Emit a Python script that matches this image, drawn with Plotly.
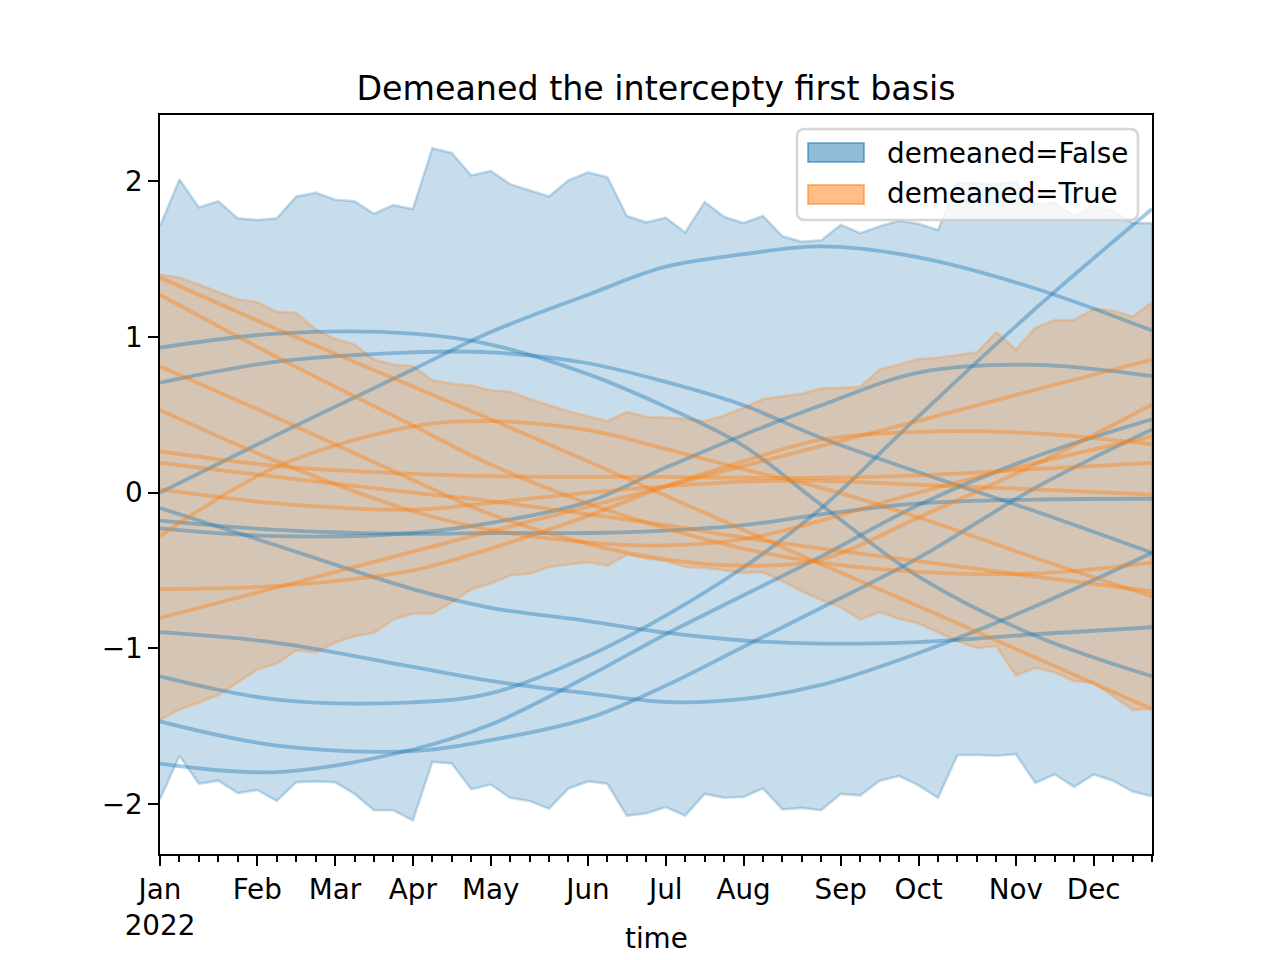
import plotly.graph_objects as go

# ---------------- data ----------------
weeks = list(range(52))
month_ticks = [0, 5, 9, 13, 17, 22, 26, 30, 35, 39, 44, 48]
month_labels = ["Jan<br>2022", "Feb", "Mar", "Apr", "May", "Jun", "Jul", "Aug", "Sep", "Oct", "Nov", "Dec"]
y_ticks = [-2, -1, 0, 1, 2]
y_labels = ["\u22122", "\u22121", "0", "1", "2"]
series_names = ["demeaned=False", "demeaned=True"]

false_upper = [1.71, 2.01, 1.83, 1.87, 1.76, 1.75, 1.76, 1.90, 1.925, 1.88, 1.87, 1.79, 1.845, 1.82,
               2.21, 2.18, 2.035, 2.065, 1.98, 1.94, 1.90, 2.005, 2.055, 2.025, 1.775, 1.735, 1.765,
               1.67, 1.865, 1.77, 1.73, 1.775, 1.645, 1.61, 1.62, 1.72, 1.665, 1.71, 1.745, 1.725,
               1.685, 1.99, 1.985, 1.98, 1.995, 1.85, 1.86, 1.775, 1.84, 1.81, 1.73, 1.73]
false_lower = [-1.97, -1.69, -1.87, -1.85, -1.93, -1.91, -1.98, -1.86, -1.855, -1.86, -1.935, -2.04,
               -2.04, -2.105, -1.73, -1.74, -1.905, -1.875, -1.96, -1.98, -2.03, -1.90, -1.855, -1.87,
               -2.075, -2.06, -2.02, -2.075, -1.935, -1.96, -1.955, -1.90, -2.035, -2.025, -2.04,
               -1.935, -1.945, -1.85, -1.82, -1.88, -1.96, -1.685, -1.685, -1.69, -1.68, -1.865,
               -1.81, -1.89, -1.81, -1.85, -1.92, -1.95]
true_upper = [1.40, 1.38, 1.336, 1.287, 1.24, 1.222, 1.16, 1.154, 1.047, 0.987, 0.95, 0.854, 0.822,
              0.811, 0.72, 0.70, 0.687, 0.657, 0.647, 0.60, 0.56, 0.522, 0.49, 0.458, 0.518, 0.486,
              0.48, 0.473, 0.458, 0.495, 0.544, 0.60, 0.618, 0.634, 0.67, 0.672, 0.679, 0.79, 0.822,
              0.858, 0.865, 0.882, 0.90, 1.03, 0.918, 1.057, 1.107, 1.107, 1.18, 1.169, 1.128, 1.222]
true_lower = [-1.46, -1.394, -1.35, -1.30, -1.22, -1.137, -1.10, -1.013, -1.026, -0.965, -0.923,
              -0.90, -0.816, -0.777, -0.777, -0.705, -0.623, -0.585, -0.533, -0.522, -0.478, -0.462,
              -0.448, -0.469, -0.40, -0.424, -0.44, -0.478, -0.484, -0.50, -0.516, -0.512, -0.57,
              -0.634, -0.69, -0.737, -0.816, -0.769, -0.811, -0.841, -0.90, -0.955, -0.998, -0.987,
              -1.175, -1.126, -1.154, -1.212, -1.222, -1.308, -1.394, -1.39]

# individual sample curves, read at these weeks
line_weeks = [0, 6, 13, 17, 22, 26, 30, 34, 39, 45, 51]

false_line_1 = [0.00, 0.37, 0.79, 1.03, 1.27, 1.45, 1.53, 1.58, 1.51, 1.31, 1.04]
false_line_2 = [0.93, 1.02, 1.02, 0.95, 0.76, 0.55, 0.30, -0.08, -0.54, -0.92, -1.18]
false_line_3 = [0.706, 0.84, 0.90, 0.90, 0.83, 0.71, 0.56, 0.35, 0.13, -0.12, -0.387]
false_line_4 = [-0.23, -0.28, -0.26, -0.195, -0.06, 0.16, 0.37, 0.56, 0.77, 0.82, 0.747]
false_line_5 = [-0.18, -0.24, -0.265, -0.26, -0.26, -0.245, -0.21, -0.14, -0.07, -0.045, -0.04]
false_line_6 = [-0.10, -0.34, -0.62, -0.74, -0.825, -0.90, -0.95, -0.97, -0.96, -0.91, -0.865]
false_line_7 = [-0.897, -0.965, -1.12, -1.21, -1.29, -1.345, -1.325, -1.235, -1.03, -0.73, -0.387]
false_line_8 = [-1.18, -1.33, -1.347, -1.29, -1.05, -0.79, -0.48, -0.10, 0.49, 1.18, 1.82]
false_line_9 = [-1.47, -1.625, -1.66, -1.59, -1.45, -1.24, -0.99, -0.74, -0.42, 0.03, 0.405]
false_line_10 = [-1.74, -1.795, -1.65, -1.49, -1.18, -0.91, -0.66, -0.41, -0.08, 0.23, 0.47]

true_line_1 = [1.38, 1.05, 0.68, 0.47, 0.20, -0.02, -0.24, -0.46, -0.73, -1.06, -1.39]
true_line_2 = [1.27, 0.87, 0.43, 0.18, -0.07, -0.23, -0.36, -0.45, -0.51, -0.52, -0.45]
true_line_3 = [0.81, 0.48, 0.08, -0.14, -0.33, -0.43, -0.47, -0.43, -0.16, 0.18, 0.565]
true_line_4 = [0.53, 0.20, -0.12, -0.24, -0.32, -0.34, -0.30, -0.18, 0.0, 0.19, 0.36]
true_line_5 = [0.265, 0.17, 0.12, 0.105, 0.10, 0.10, 0.095, 0.095, 0.11, 0.15, 0.19]
true_line_6 = [0.19, 0.10, 0.0, -0.055, -0.14, -0.21, -0.29, -0.36, -0.44, -0.54, -0.634]
true_line_7 = [0.02, -0.07, -0.11, -0.066, 0.0, 0.04, 0.07, 0.075, 0.05, 0.02, -0.013]
true_line_8 = [-0.28, 0.165, 0.425, 0.458, 0.40, 0.28, 0.15, 0.03, -0.16, -0.42, -0.666]
true_line_9 = [-0.62, -0.60, -0.50, -0.36, -0.15, 0.04, 0.20, 0.34, 0.39, 0.38, 0.31]
true_line_10 = [-0.805, -0.61, -0.38, -0.25, -0.09, 0.04, 0.17, 0.30, 0.46, 0.66, 0.854]

false_lines = [false_line_1, false_line_2, false_line_3, false_line_4, false_line_5,
               false_line_6, false_line_7, false_line_8, false_line_9, false_line_10]
true_lines = [true_line_1, true_line_2, true_line_3, true_line_4, true_line_5,
              true_line_6, true_line_7, true_line_8, true_line_9, true_line_10]

# ---------------- styling ----------------
FONT = "DejaVu Sans"
BLUE = "31,119,180"
ORANGE = "255,127,14"
OFF = 8                      # page offset of the figure div (body margin)
W, H = 1280 - OFF, 960 - OFF
PX0, PX1, PY0, PY1 = 160, 1152, 115, 854   # plot area in page pixels
L, T = PX0 - OFF, PY0 - OFF
R, B = W - (PX1 - OFF), H - (PY1 - OFF)


def xp(px):
    return (px - PX0) / (PX1 - PX0)


def yp(py):
    return (PY1 - py) / (PY1 - PY0)


fig = go.Figure()


def band(upper, lower, rgb):
    fig.add_trace(go.Scatter(
        x=weeks + weeks[::-1], y=upper + lower[::-1],
        fill="toself", fillcolor=f"rgba({rgb},0.25)",
        line=dict(color=f"rgba({rgb},0.25)", width=2.6),
        mode="lines", showlegend=False, hoverinfo="skip"))


def curves(lines, rgb):
    for ys in lines:
        fig.add_trace(go.Scatter(
            x=line_weeks, y=ys, mode="lines",
            line=dict(color=f"rgba({rgb},0.4)", width=3.8, shape="spline", smoothing=1.0),
            showlegend=False, hoverinfo="skip"))


band(false_upper, false_lower, BLUE)
band(true_upper, true_lower, ORANGE)
curves(false_lines, BLUE)
curves(true_lines, ORANGE)

axis_common = dict(
    showline=True, linecolor="black", linewidth=2.2, mirror=True,
    showgrid=False, zeroline=False,
    ticks="outside", ticklen=9.7, tickwidth=2.2, tickcolor="black",
    tickfont=dict(family=FONT, size=27.8, color="black"),
)

# ---- legend drawn by hand (matplotlib style) ----
x0, x1, y0, y1 = xp(797), xp(1138), yp(220), yp(129)
rx, ry = 8 / (PX1 - PX0), 8 / (PY1 - PY0)
legend_path = (f"M {x0+rx},{y0} L {x1-rx},{y0} Q {x1},{y0} {x1},{y0+ry} "
               f"L {x1},{y1-ry} Q {x1},{y1} {x1-rx},{y1} L {x0+rx},{y1} "
               f"Q {x0},{y1} {x0},{y1-ry} L {x0},{y0+ry} Q {x0},{y0} {x0+rx},{y0} Z")
shapes = [dict(type="path", path=legend_path, xref="paper", yref="paper", layer="above",
               fillcolor="rgba(255,255,255,0.8)", line=dict(color="rgba(204,204,204,0.8)", width=2.6))]
annotations = []
for name, rgb, (pt, pb), yc in [(series_names[0], BLUE, (143, 162), 153.4),
                                (series_names[1], ORANGE, (185, 204), 193.7)]:
    shapes.append(dict(type="rect", xref="paper", yref="paper", layer="above",
                       x0=xp(808), x1=xp(864), y0=yp(pb), y1=yp(pt),
                       fillcolor=f"rgba({rgb},0.5)", line=dict(color=f"rgba({rgb},0.5)", width=2)))
    annotations.append(dict(text=name, x=xp(885), y=yp(yc), xref="paper", yref="paper",
                            xanchor="left", yanchor="middle", showarrow=False,
                            font=dict(family=FONT, size=27.8, color="black")))

annotations.append(dict(text="time", x=0.5, xref="paper", y=yp(957), yref="paper",
                        xanchor="center", yanchor="bottom", showarrow=False,
                        font=dict(family=FONT, size=27.8, color="black")))

fig.update_layout(
    width=W, height=H,
    margin=dict(l=L, r=R, t=T, b=B, pad=0),
    paper_bgcolor="white", plot_bgcolor="white",
    font=dict(family=FONT, size=27.8, color="black"),
    showlegend=False,
    title=dict(text="Demeaned the intercepty first basis", x=0.5, xref="paper",
               xanchor="center", y=1 - (88 - OFF) / H, yref="container", yanchor="middle",
               font=dict(family=FONT, size=33.3, color="black")),
    xaxis=dict(range=[0, 51], tickmode="array", tickvals=month_ticks, ticktext=month_labels,
               minor=dict(tickmode="array", tickvals=weeks, ticks="outside", ticklen=5.6,
                          tickwidth=1.7, tickcolor="black"),
               **axis_common),
    yaxis=dict(range=[-2.321, 2.424], tickmode="array", tickvals=y_ticks, ticktext=y_labels,
               **axis_common),
    shapes=shapes,
    annotations=annotations,
)

fig.write_html("out.html")
